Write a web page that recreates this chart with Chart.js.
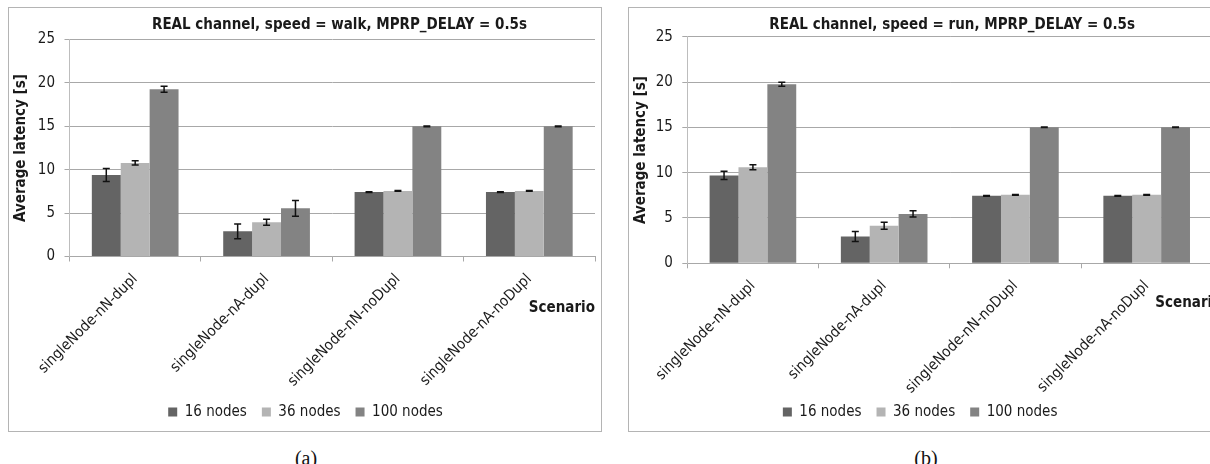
<!DOCTYPE html>
<html>
<head>
<meta charset="utf-8">
<script src="https://cdn.jsdelivr.net/npm/chart.js@4.4.1/dist/chart.umd.min.js"></script>
<style>
  html, body { margin: 0; padding: 0; background: #fff; overflow: hidden; width: 1210px; height: 464px; }
  .frame { position: absolute; box-sizing: border-box; border: 1px solid #b4b4b4; }
  .wrap { position: absolute; }
  .caption { position: absolute; font-family: 'Liberation Serif', 'DejaVu Serif', serif; font-size: 20px; color: #111; text-align: center; width: 60px; line-height: 22px; }
</style>
</head>
<body>
<div class="wrap" style="left:8px; top:7px; width:594px; height:425px;"><canvas id="walk" width="594" height="425"></canvas></div>
<div class="frame" style="left:8px; top:7px; width:594px; height:425px;"></div>
<div class="wrap" style="left:628px; top:7px; width:594px; height:425px;"><canvas id="run" width="594" height="425"></canvas></div>
<div class="frame" style="left:628px; top:7px; width:594px; height:425px;"></div>
<div class="caption" style="left:276px; top:447px;">(a)</div>
<div class="caption" style="left:896px; top:447px;">(b)</div>
<script>
// ---- data ----
const categories = ['singleNode-nN-dupl', 'singleNode-nA-dupl', 'singleNode-nN-noDupl', 'singleNode-nA-noDupl'];
const seriesNames = ['16 nodes', '36 nodes', '100 nodes'];
const yTickValues = [0, 5, 10, 15, 20, 25];

const walk16 = [9.4, 2.9, 7.42, 7.42];
const walk16Err = [0.75, 0.85, 0.04, 0.04];
const walk36 = [10.78, 3.95, 7.56, 7.56];
const walk36Err = [0.25, 0.35, 0.04, 0.04];
const walk100 = [19.27, 5.55, 15.0, 15.0];
const walk100Err = [0.35, 0.9, 0.04, 0.04];

const run16 = [9.7, 2.95, 7.45, 7.45];
const run16Err = [0.45, 0.55, 0.04, 0.04];
const run36 = [10.6, 4.15, 7.55, 7.55];
const run36Err = [0.28, 0.38, 0.04, 0.04];
const run100 = [19.75, 5.45, 15.0, 15.0];
const run100Err = [0.22, 0.35, 0.03, 0.03];

const titles = ['REAL channel, speed = walk, MPRP_DELAY = 0.5s', 'REAL channel, speed = run, MPRP_DELAY = 0.5s'];
const yTitle = 'Average latency [s]';
const xTitle = 'Scenario';

// ---- styles ----
const colors = ['#646464', '#b4b4b4', '#838383'];
const FONT = "'DejaVu Sans Condensed', 'DejaVu Sans', sans-serif";
Chart.defaults.font.family = FONT;
Chart.defaults.font.size = 15;
Chart.defaults.color = '#1a1a1a';

const errorBars = {
  id: 'errorBars',
  afterDatasetsDraw(chart) {
    const ctx = chart.ctx;
    const ys = chart.scales.y;
    ctx.save();
    ctx.strokeStyle = '#111';
    ctx.lineWidth = 1.5;
    chart.data.datasets.forEach((ds, i) => {
      const meta = chart.getDatasetMeta(i);
      meta.data.forEach((bar, j) => {
        const v = ds.data[j], e = ds.errors[j];
        const yt = ys.getPixelForValue(v + e), yb = ys.getPixelForValue(v - e);
        const x = bar.x, c = 3.5;
        ctx.beginPath();
        ctx.moveTo(x, yt); ctx.lineTo(x, yb);
        ctx.moveTo(x - c, yt); ctx.lineTo(x + c, yt);
        ctx.moveTo(x - c, yb); ctx.lineTo(x + c, yb);
        ctx.stroke();
      });
    });
    ctx.restore();
  }
};

const extras = {
  id: 'extras',
  afterLayout(chart) {
    const g = chart.options.plugins.extras;
    const t = chart.titleBlock;
    t.left += g.titleDx; t.right += g.titleDx;
    const lg = chart.legend;
    lg.left += g.legendDx; lg.right += g.legendDx;
    if (lg.legendHitBoxes) lg.legendHitBoxes.forEach(h => { h.left += g.legendDx; });
    // let the rotated category labels run below the axis box (no clipping)
    chart.scales.x.bottom = chart.height;
  },
  afterDraw(chart) {
    const g = chart.options.plugins.extras;
    const ctx = chart.ctx, a = chart.chartArea;
    ctx.save();
    ctx.font = 'bold 15px ' + FONT;
    ctx.fillStyle = '#1a1a1a';
    ctx.textBaseline = 'middle';
    ctx.textAlign = g.scenAlign;
    const x = g.scenAlign === 'right' ? a.right + g.scenDx : a.left + g.scenDx;
    ctx.fillText(xTitle, x, a.bottom + g.scenDy);
    ctx.restore();
  }
};

function makeChart(id, title, vals, errs, geo) {
  return new Chart(document.getElementById(id), {
    type: 'bar',
    data: {
      labels: categories,
      datasets: seriesNames.map((n, i) => ({
        label: n,
        data: vals[i],
        errors: errs[i],
        backgroundColor: colors[i],
        borderWidth: 0,
        categoryPercentage: 0.66,
        barPercentage: 1.0
      }))
    },
    options: {
      responsive: false,
      animation: false,
      events: [],
      layout: { padding: { left: 0, right: geo.padR, top: 0, bottom: geo.padB } },
      plugins: {
        title: {
          display: true, text: title,
          font: { size: 15, weight: 'bold', lineHeight: 1.2 },
          padding: { top: 9, bottom: geo.plotTop - 27 }
        },
        legend: {
          position: 'bottom',
          labels: { boxWidth: 9, boxHeight: 9, padding: 15, font: { size: 15 }, color: '#1a1a1a' }
        },
        tooltip: { enabled: false },
        extras: geo
      },
      scales: {
        x: {
          grid: { display: true, drawOnChartArea: false, drawTicks: true, tickLength: 5, color: '#a8a8a8', offset: true },
          border: { display: true, color: '#a8a8a8' },
          ticks: { minRotation: 45, maxRotation: 45, autoSkip: false, padding: 9, font: { size: 15 } },
          afterFit(s) {
            const c = s.chart;
            s.height = (c.height - geo.padB - c.legend.height) - geo.plotBottom;
          }
        },
        y: {
          min: 0, max: 25,
          afterBuildTicks(s) { s.ticks = yTickValues.map(v => ({ value: v })); },
          grid: { color: '#a8a8a8', tickLength: 5, drawTicks: true },
          border: { display: true, color: '#bdbdbd' },
          ticks: { padding: 9.5, font: { size: 15 } },
          title: { display: true, text: yTitle, font: { size: 15, weight: 'bold', lineHeight: 1.2 }, padding: { top: 4, bottom: 0 } },
          afterFit(s) { s.width = geo.yW; }
        }
      }
    },
    plugins: [errorBars, extras]
  });
}

makeChart('walk', titles[0], [walk16, walk36, walk100], [walk16Err, walk36Err, walk100Err],
  { padR: 7, padB: 2.5, yW: 61.5, plotTop: 32.5, plotBottom: 249.5, titleDx: 38, legendDx: 4, scenAlign: 'right', scenDx: 0, scenDy: 51.5 });
makeChart('run', titles[1], [run16, run36, run100], [run16Err, run36Err, run100Err],
  { padR: 9.7, padB: 2.5, yW: 59.3, plotTop: 29.7, plotBottom: 256.3, titleDx: 32, legendDx: 0, scenAlign: 'left', scenDx: 468, scenDy: 40 });
</script>
</body>
</html>
